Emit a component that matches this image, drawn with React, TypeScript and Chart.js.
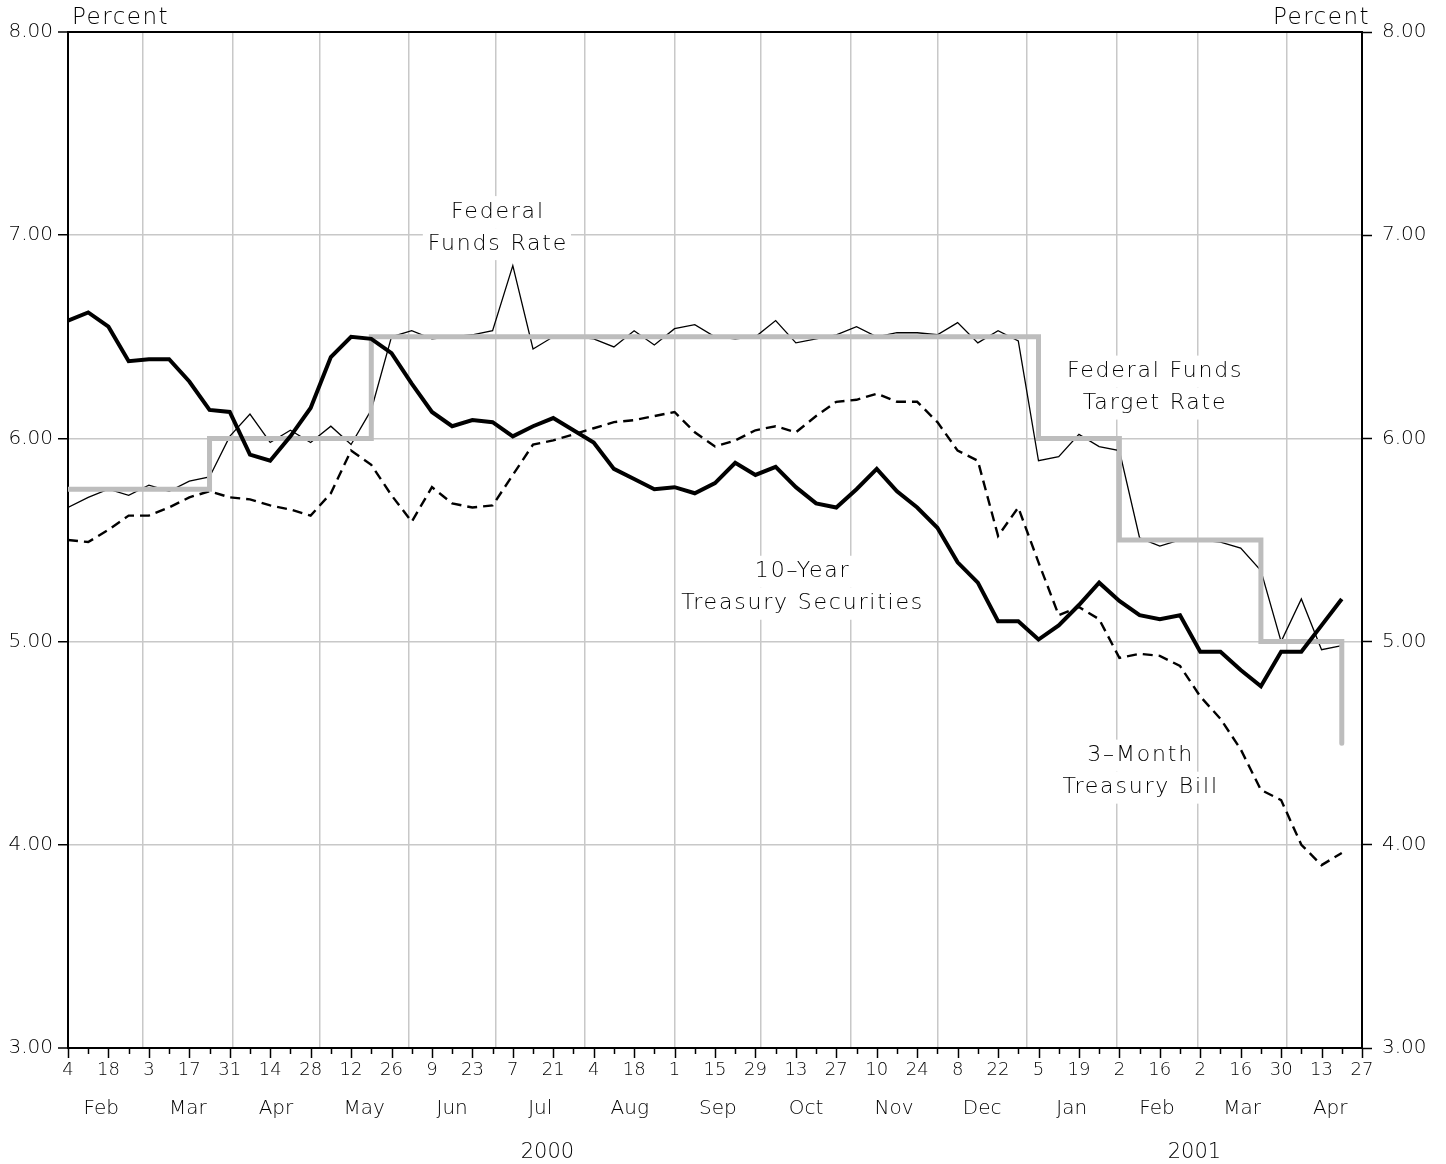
import React, { useEffect, useRef } from 'react';
import { Chart, registerables } from 'chart.js';

Chart.register(...registerables);

const FONT = '"DejaVu Sans", sans-serif';
const W = 1446;
const H = 1164;

// ---- Data ----
const startDate = '2000-02-04';
const endDate = '2001-04-27';

// biweekly day-of-month tick labels (every other Friday)
const tickLabels = ['4', '18', '3', '17', '31', '14', '28', '12', '26', '9', '23', '7', '21', '4', '18', '1', '15', '29', '13', '27', '10', '24', '8', '22', '5', '19', '2', '16', '2', '16', '30', '13', '27'];

const monthLabels = ['Feb', 'Mar', 'Apr', 'May', 'Jun', 'Jul', 'Aug', 'Sep', 'Oct', 'Nov', 'Dec', 'Jan', 'Feb', 'Mar', 'Apr'];
const monthStarts = ['2000-02-01', '2000-03-01', '2000-04-01', '2000-05-01', '2000-06-01', '2000-07-01', '2000-08-01', '2000-09-01', '2000-10-01', '2000-11-01', '2000-12-01', '2001-01-01', '2001-02-01', '2001-03-01', '2001-04-01', '2001-05-01'];
const yearLabels = ['2000', '2001'];
const yearStarts = ['2000-01-01', '2001-01-01', '2002-01-01'];

const yTicks = [3, 4, 5, 6, 7, 8];

// weekly values, Fridays from Feb 4, 2000 to Apr 20, 2001
const fedFundsRate = [5.66, 5.71, 5.75, 5.72, 5.77, 5.74, 5.79, 5.81, 6.01, 6.12, 5.98, 6.04, 5.98, 6.06, 5.97, 6.14, 6.50, 6.53, 6.49, 6.50, 6.51, 6.53, 6.85, 6.44, 6.50, 6.50, 6.49, 6.45, 6.53, 6.46, 6.54, 6.56, 6.50, 6.49, 6.50, 6.58, 6.47, 6.49, 6.51, 6.55, 6.50, 6.52, 6.52, 6.51, 6.57, 6.47, 6.53, 6.48, 5.89, 5.91, 6.02, 5.96, 5.94, 5.51, 5.47, 5.50, 5.50, 5.49, 5.46, 5.35, 5.00, 5.21, 4.96, 4.98];
const tenYearTreasury = [6.58, 6.62, 6.55, 6.38, 6.39, 6.39, 6.28, 6.14, 6.13, 5.92, 5.89, 6.01, 6.15, 6.40, 6.50, 6.49, 6.42, 6.27, 6.13, 6.06, 6.09, 6.08, 6.01, 6.06, 6.10, 6.04, 5.98, 5.85, 5.80, 5.75, 5.76, 5.73, 5.78, 5.88, 5.82, 5.86, 5.76, 5.68, 5.66, 5.75, 5.85, 5.74, 5.66, 5.56, 5.39, 5.29, 5.10, 5.10, 5.01, 5.08, 5.18, 5.29, 5.20, 5.13, 5.11, 5.13, 4.95, 4.95, 4.86, 4.78, 4.95, 4.95, 5.08, 5.21];
const threeMonthBill = [5.50, 5.49, 5.55, 5.62, 5.62, 5.66, 5.71, 5.74, 5.71, 5.70, 5.67, 5.65, 5.62, 5.73, 5.94, 5.87, 5.72, 5.59, 5.76, 5.68, 5.66, 5.67, 5.82, 5.97, 5.99, 6.02, 6.05, 6.08, 6.09, 6.11, 6.13, 6.03, 5.96, 5.99, 6.04, 6.06, 6.03, 6.11, 6.18, 6.19, 6.22, 6.18, 6.18, 6.08, 5.94, 5.89, 5.52, 5.66, 5.39, 5.13, 5.17, 5.11, 4.92, 4.94, 4.93, 4.88, 4.73, 4.62, 4.47, 4.27, 4.22, 4.00, 3.90, 3.96];

// target rate, week in which each level first applies
const targetDates = ['2000-02-04', '2000-03-24', '2000-05-19', '2001-01-05', '2001-02-02', '2001-03-23', '2001-04-20'];
const targetRates = [5.75, 6.0, 6.5, 6.0, 5.5, 5.0, 4.5];

// ---- helpers ----
const DAY_MS = 86400000;
const t0 = Date.parse(startDate + 'T00:00:00Z');
const toDay = (s: string) => (Date.parse(s + 'T00:00:00Z') - t0) / DAY_MS;
const X_MIN = 0;
const X_MAX = toDay(endDate);

const notes = [
  { lines: ['Federal', 'Funds Rate'], day: 148.5, pct: 7.035 },
  { lines: ['Federal Funds', 'Target Rate'], day: 376, pct: 6.25 },
  { lines: ['10\u2013Year', 'Treasury Securities'], day: 254, pct: 5.265 },
  { lines: ['3\u2013Month', 'Treasury Bill'], day: 371, pct: 4.36 },
];

export default function App() {
  const ref = useRef<HTMLCanvasElement>(null);

  useEffect(() => {
    const canvas = ref.current;
    if (!canvas) return;

    const weekly = (vals: number[]) => vals.map((v, i) => ({ x: i * 7, y: v }));
    const targetData = targetDates.map((d, i) => ({ x: toDay(d), y: targetRates[i] }));
    const weekTicks = Array.from({ length: Math.round((X_MAX - X_MIN) / 7) + 1 }, (_, k) => X_MIN + k * 7);
    const monthCenters = monthLabels.map((_, i) => (toDay(monthStarts[i]) + toDay(monthStarts[i + 1])) / 2);
    const yearCenters = yearLabels.map((_, i) => (Math.max(X_MIN, toDay(yearStarts[i])) + Math.min(X_MAX, toDay(yearStarts[i + 1]))) / 2);
    const gridDays = monthStarts.map(toDay).filter((d) => d > X_MIN && d < X_MAX);

    const notesPlugin = {
      id: 'notes',
      beforeDatasetsDraw(chart: any) {
        const { ctx } = chart;
        const xs = chart.scales.x;
        const ys = chart.scales.y;
        ctx.save();
        ctx.font = `200 22px ${FONT}`;
        (ctx as any).letterSpacing = '1.8px';
        ctx.textAlign = 'center';
        ctx.textBaseline = 'middle';
        const gap = 32;
        notes.forEach((n) => {
          const cx = xs.getPixelForValue(n.day);
          const cy = ys.getPixelForValue(n.pct);
          const widths = n.lines.map((l) => ctx.measureText(l).width);
          const top = cy - gap / 2 - 16;
          const bottom = cy + gap / 2 + 16;
          ctx.fillStyle = '#fff';
          n.lines.forEach((l, i) => {
            const w = widths[i];
            const lt = i === 0 ? top : cy;
            const lb = i === 0 ? cy : bottom;
            ctx.fillRect(cx - w / 2 - 4, lt, w + 8, lb - lt);
          });
          ctx.fillStyle = '#000';
          n.lines.forEach((l, i) => {
            ctx.fillText(l, cx + 1, cy + (i === 0 ? -gap / 2 : gap / 2));
          });
        });
        ctx.restore();
      },
      afterDraw(chart: any) {
        const { ctx, chartArea } = chart;
        const xs = chart.scales.x;
        ctx.save();
        ctx.strokeStyle = '#000';
        ctx.lineWidth = 1.5;
        weekTicks.forEach((d, k) => {
          const px = Math.round(xs.getPixelForValue(d)) + 0.5;
          const len = k % 2 === 0 ? 10 : 6;
          ctx.beginPath();
          ctx.moveTo(px, chartArea.bottom);
          ctx.lineTo(px, chartArea.bottom + len);
          ctx.stroke();
        });
        ctx.font = `200 23px ${FONT}`;
        (ctx as any).letterSpacing = '1.5px';
        ctx.fillStyle = '#000';
        ctx.textBaseline = 'middle';
        ctx.textAlign = 'left';
        ctx.fillText('Percent', chartArea.left + 4, 18);
        ctx.textAlign = 'right';
        ctx.fillText('Percent', chartArea.right + 8, 18);
        ctx.restore();
      },
    };

    const gridColor = '#c8c8c8';
    const edge = (c: any) => c.tick && (c.tick.value === 8 || c.tick.value === 3);

    const chart = new Chart(canvas, {
      type: 'line',
      data: {
        datasets: [
          {
            label: '10-Year Treasury Securities',
            data: weekly(tenYearTreasury),
            borderColor: '#000',
            borderWidth: 4,
            pointRadius: 0,
            tension: 0,
            order: 0,
            xAxisID: 'x',
            yAxisID: 'y',
          },
          {
            label: 'Federal Funds Target Rate',
            data: targetData,
            borderColor: '#bdbdbd',
            borderWidth: 5,
            pointRadius: 0,
            stepped: 'before',
            borderCapStyle: 'round',
            order: 1,
            xAxisID: 'x',
            yAxisID: 'y',
          },
          {
            label: '3-Month Treasury Bill',
            data: weekly(threeMonthBill),
            borderColor: '#000',
            borderWidth: 2.4,
            borderDash: [10, 6],
            pointRadius: 0,
            tension: 0,
            order: 2,
            xAxisID: 'x',
            yAxisID: 'y',
          },
          {
            label: 'Federal Funds Rate',
            data: weekly(fedFundsRate),
            borderColor: '#000',
            borderWidth: 1.3,
            pointRadius: 0,
            tension: 0,
            order: 3,
            xAxisID: 'x',
            yAxisID: 'y',
          },
        ],
      },
      options: {
        responsive: false,
        animation: false,
        devicePixelRatio: 1,
        layout: { padding: { top: 32, left: 0, right: 0, bottom: 0 } },
        plugins: { legend: { display: false }, tooltip: { enabled: false } },
        scales: {
          x: {
            type: 'linear',
            position: 'bottom',
            min: X_MIN,
            max: X_MAX,
            weight: 0,
            afterBuildTicks: (s: any) => {
              s.ticks = weekTicks.map((v) => ({ value: v }));
            },
            afterFit: (s: any) => {
              s.height = 40;
            },
            ticks: {
              autoSkip: false,
              maxRotation: 0,
              padding: 12,
              color: '#000',
              font: { family: FONT, size: 18, weight: 200 as any },
              callback: (_v: any, i: number) => (i % 2 === 0 ? tickLabels[i / 2] : ''),
            },
            grid: { display: false, drawTicks: false },
            border: { display: true, color: '#000', width: 2 },
          },
          xMonth: {
            type: 'linear',
            position: 'bottom',
            min: X_MIN,
            max: X_MAX,
            weight: 1,
            afterBuildTicks: (s: any) => {
              s.ticks = monthCenters.map((v) => ({ value: v }));
            },
            afterFit: (s: any) => {
              s.height = 40;
            },
            ticks: {
              autoSkip: false,
              maxRotation: 0,
              padding: 9,
              color: '#000',
              font: { family: FONT, size: 20, weight: 200 as any },
              callback: (_v: any, i: number) => monthLabels[i],
            },
            grid: { display: false, drawTicks: false },
            border: { display: false },
          },
          xYear: {
            type: 'linear',
            position: 'bottom',
            min: X_MIN,
            max: X_MAX,
            weight: 2,
            afterBuildTicks: (s: any) => {
              s.ticks = yearCenters.map((v) => ({ value: v }));
            },
            afterFit: (s: any) => {
              s.height = 36;
            },
            ticks: {
              autoSkip: false,
              maxRotation: 0,
              padding: 12,
              color: '#000',
              font: { family: FONT, size: 21, weight: 200 as any },
              callback: (_v: any, i: number) => yearLabels[i],
            },
            grid: { display: false, drawTicks: false },
            border: { display: false },
          },
          xGrid: {
            type: 'linear',
            position: 'bottom',
            min: X_MIN,
            max: X_MAX,
            weight: 3,
            afterBuildTicks: (s: any) => {
              s.ticks = gridDays.map((v) => ({ value: v }));
            },
            afterFit: (s: any) => {
              s.height = 0;
            },
            ticks: { display: false },
            grid: { display: true, drawOnChartArea: true, drawTicks: false, color: gridColor, lineWidth: 1.5 },
            border: { display: false },
          },
          y: {
            type: 'linear',
            position: 'left',
            min: 3,
            max: 8,
            afterBuildTicks: (s: any) => {
              s.ticks = yTicks.map((v) => ({ value: v }));
            },
            afterFit: (s: any) => {
              s.width = 68;
            },
            ticks: {
              padding: 5,
              color: '#000',
              font: { family: FONT, size: 20, weight: 200 as any },
              callback: (v: any) => Number(v).toFixed(2),
            },
            grid: {
              color: (c: any) => (edge(c) ? '#000' : gridColor),
              lineWidth: (c: any) => (edge(c) ? 2 : 1.5),
              tickColor: '#000',
              tickLength: 10,
              tickWidth: 1.5,
            },
            border: { display: true, color: '#000', width: 2 },
          },
          y2: {
            type: 'linear',
            position: 'right',
            min: 3,
            max: 8,
            afterBuildTicks: (s: any) => {
              s.ticks = yTicks.map((v) => ({ value: v }));
            },
            afterFit: (s: any) => {
              s.width = W - 1362;
            },
            ticks: {
              padding: 10,
              color: '#000',
              font: { family: FONT, size: 20, weight: 200 as any },
              callback: (v: any) => Number(v).toFixed(2),
            },
            grid: {
              drawOnChartArea: false,
              tickColor: '#000',
              tickLength: 10,
              tickWidth: 1.5,
            },
            border: { display: true, color: '#000', width: 2 },
          },
        },
      } as any,
      plugins: [notesPlugin],
    });

    return () => {
      chart.destroy();
    };
  }, []);

  return (
    <div style={{ position: 'absolute', left: 0, top: 0, width: W, height: H, background: '#fff' }}>
      <canvas ref={ref} width={W} height={H} style={{ display: 'block', width: W, height: H }} />
    </div>
  );
}
